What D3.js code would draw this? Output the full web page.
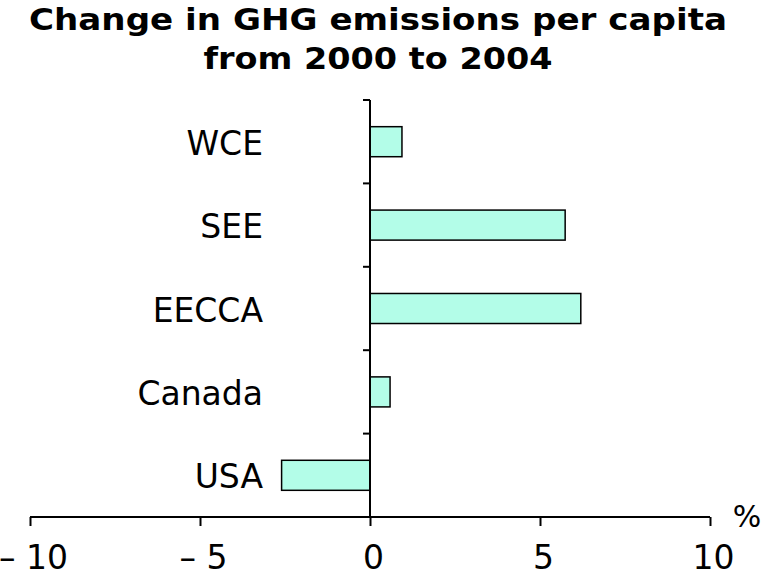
<!DOCTYPE html>
<html><head><meta charset="utf-8">
<script src="https://cdn.jsdelivr.net/npm/d3@7"></script>
<style>body{margin:0;background:#fff}svg{display:block}</style>
</head><body>
<script>
const categories = ["WCE", "SEE", "EECCA", "Canada", "USA"];
const values = [0.94, 5.74, 6.2, 0.59, -2.6];
const xTicks = [-10, -5, 0, 5, 10];
const xTickLabels = ["– 10", "– 5", "0", "5", "10"];
const titleLines = ["Change in GHG emissions per capita", "from 2000 to 2004"];
const unitLabel = "%";

const W = 768, H = 577;
const svg = d3.select("body").append("svg").attr("width", W).attr("height", H);
const font = "Verdana, 'DejaVu Sans', sans-serif";

const x = d3.scaleLinear().domain([-10, 10]).range([30, 710]);
const y = d3.scaleBand().domain(categories).range([100, 517]).paddingInner(0.64).paddingOuter(0.32);
const band = d3.scaleBand().domain(categories).range([100, 517]);

// title
const titleLens = [698, 349];
svg.append("g").selectAll("text").data(titleLines).join("text")
  .attr("x", 378).attr("y", (d, i) => 30 + i * 39)
  .attr("text-anchor", "middle").attr("font-family", font)
  .attr("font-weight", "bold").attr("font-size", 31).attr("fill", "#000")
  .attr("textLength", (d, i) => titleLens[i]).attr("lengthAdjust", "spacingAndGlyphs")
  .text(d => d);

// bars
svg.append("g").selectAll("rect").data(values).join("rect")
  .attr("x", d => x(Math.min(0, d)))
  .attr("width", d => Math.abs(x(d) - x(0)))
  .attr("y", (d, i) => y(categories[i]))
  .attr("height", y.bandwidth())
  .attr("fill", "#b3fde8").attr("stroke", "#000").attr("stroke-width", 1.5);

// y axis
const yAxisG = svg.append("g");
yAxisG.append("line").attr("x1", x(0)).attr("x2", x(0)).attr("y1", band.range()[0]).attr("y2", band.range()[1])
  .attr("stroke", "#000").attr("stroke-width", 2);
const yTickPos = categories.map(c => band(c)).concat([band.range()[1]]);
yAxisG.selectAll("line.t").data(yTickPos).join("line").attr("class", "t")
  .attr("x1", x(0) - 7).attr("x2", x(0)).attr("y1", d => d).attr("y2", d => d)
  .attr("stroke", "#000").attr("stroke-width", 2);
yAxisG.selectAll("text").data(categories).join("text")
  .attr("x", 263).attr("y", d => band(d) + band.bandwidth() / 2 + 13)
  .attr("text-anchor", "end")
  .attr("font-family", font).attr("font-size", 33).attr("fill", "#000")
  .text(d => d);

// x axis
const xAxisG = svg.append("g").attr("transform", "translate(0,517)");
xAxisG.call(d3.axisBottom(x).tickValues(xTicks).tickSize(9).tickFormat((d, i) => xTickLabels[i]));
xAxisG.select(".domain").attr("d", `M${x(-10)},0H${x(10)}`).attr("stroke-width", 2);
xAxisG.selectAll(".tick line").attr("stroke-width", 2);
xAxisG.selectAll(".tick text").attr("font-family", font).attr("font-size", 33).attr("fill", "#000")
  .attr("y", 52).attr("dy", 0).attr("dx", 3);

svg.append("text").attr("x", 747).attr("y", 527).attr("text-anchor", "middle")
  .attr("font-family", font).attr("font-size", 30).attr("fill", "#000").text(unitLabel);
</script>
</body></html>
